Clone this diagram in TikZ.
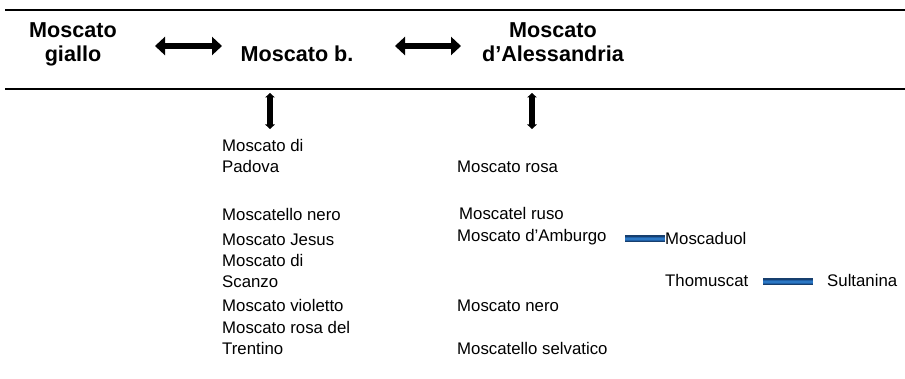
\documentclass[tikz,border=0pt]{standalone}
\usepackage{fontspec}
\setmainfont{Liberation Sans}
\usetikzlibrary{arrows.meta}
\definecolor{bardark}{HTML}{173F6E}
\definecolor{barmid}{HTML}{1F5FA6}
\definecolor{barlight}{HTML}{2C78C4}
\tikzset{
  title/.style={font=\bfseries\fontsize{21.6}{24}\selectfont, inner sep=0pt, align=center, anchor=base},
  item/.style={font=\fontsize{16.8}{21.3}\selectfont, inner sep=0pt, align=left, anchor=base west},
  rule/.style={line width=1.6pt},
  hdarrow/.style={line width=6.5pt, {Triangle[length=10pt,width=18pt]}-{Triangle[length=10pt,width=18pt]}},
  vdarrow/.style={line width=5.5pt, {Triangle[length=4.5pt,width=9.5pt]}-{Triangle[length=4.5pt,width=9.5pt]}},
  bluebar/.style={line width=7pt, draw=bardark},
  bluemid/.style={line width=4.5pt, draw=barmid},
  bluecore/.style={line width=2pt, draw=barlight}
}
\begin{document}
\begin{tikzpicture}[x=1pt,y=-1pt]
\useasboundingbox (0,0) rectangle (905,379);
% rules
\coordinate (t1) at (5,10); \coordinate (t2) at (905,10);
\coordinate (b1) at (5,89); \coordinate (b2) at (905,89);
\draw[rule] (t1) -- (t2);
\draw[rule] (b1) -- (b2);
% titles
\node[title] (giallo) at (73,62) {Moscato\\giallo};
\node[title] (bianco) at (297,62) {Moscato b.};
\node[title] (aless) at (553,62) {Moscato\\d'Alessandria};
% horizontal arrows
\coordinate (h1a) at (155,46); \coordinate (h1b) at (222,46);
\coordinate (h2a) at (395,46); \coordinate (h2b) at (461,46);
\draw[hdarrow] (h1a) -- (h1b);
\draw[hdarrow] (h2a) -- (h2b);
% vertical arrows
\coordinate (v1a) at (270,93); \coordinate (v1b) at (270,129);
\coordinate (v2a) at (532,93); \coordinate (v2b) at (532,129);
\draw[vdarrow] (v1a) -- (v1b);
\draw[vdarrow] (v2a) -- (v2b);
% left column
\node[item] (l1) at (222,173) {Moscato di\\Padova};
\node[item] (l2) at (222,221) {Moscatello nero};
\node[item] (l3) at (222,246) {Moscato Jesus};
\node[item] (l4) at (222,288) {Moscato di\\Scanzo};
\node[item] (l5) at (222,312) {Moscato violetto};
\node[item] (l6) at (222,355) {Moscato rosa del\\Trentino};
% right column
\node[item] (r1) at (457,173) {Moscato rosa};
\node[item] (r2) at (459,220) {Moscatel ruso};
\node[item] (r3) at (457,242) {Moscato d'Amburgo};
\node[item] (r4) at (457,312) {Moscato nero};
\node[item] (r5) at (457,355) {Moscatello selvatico};
% far right
\node[item] (m1) at (665,245) {Moscaduol};
\node[item] (th) at (665,287) {Thomuscat};
\node[item] (su) at (827,287) {Sultanina};
% blue bars
\coordinate (ba1) at (625,239); \coordinate (ba2) at (665,239);
\coordinate (bb1) at (763,282); \coordinate (bb2) at (813,282);
\foreach \p/\q in {ba1/ba2, bb1/bb2} {
  \draw[bluebar] (\p) -- (\q);
  \draw[bluemid] (\p) -- (\q);
  \draw[bluecore] (\p) -- (\q);
}
\end{tikzpicture}
\end{document}
